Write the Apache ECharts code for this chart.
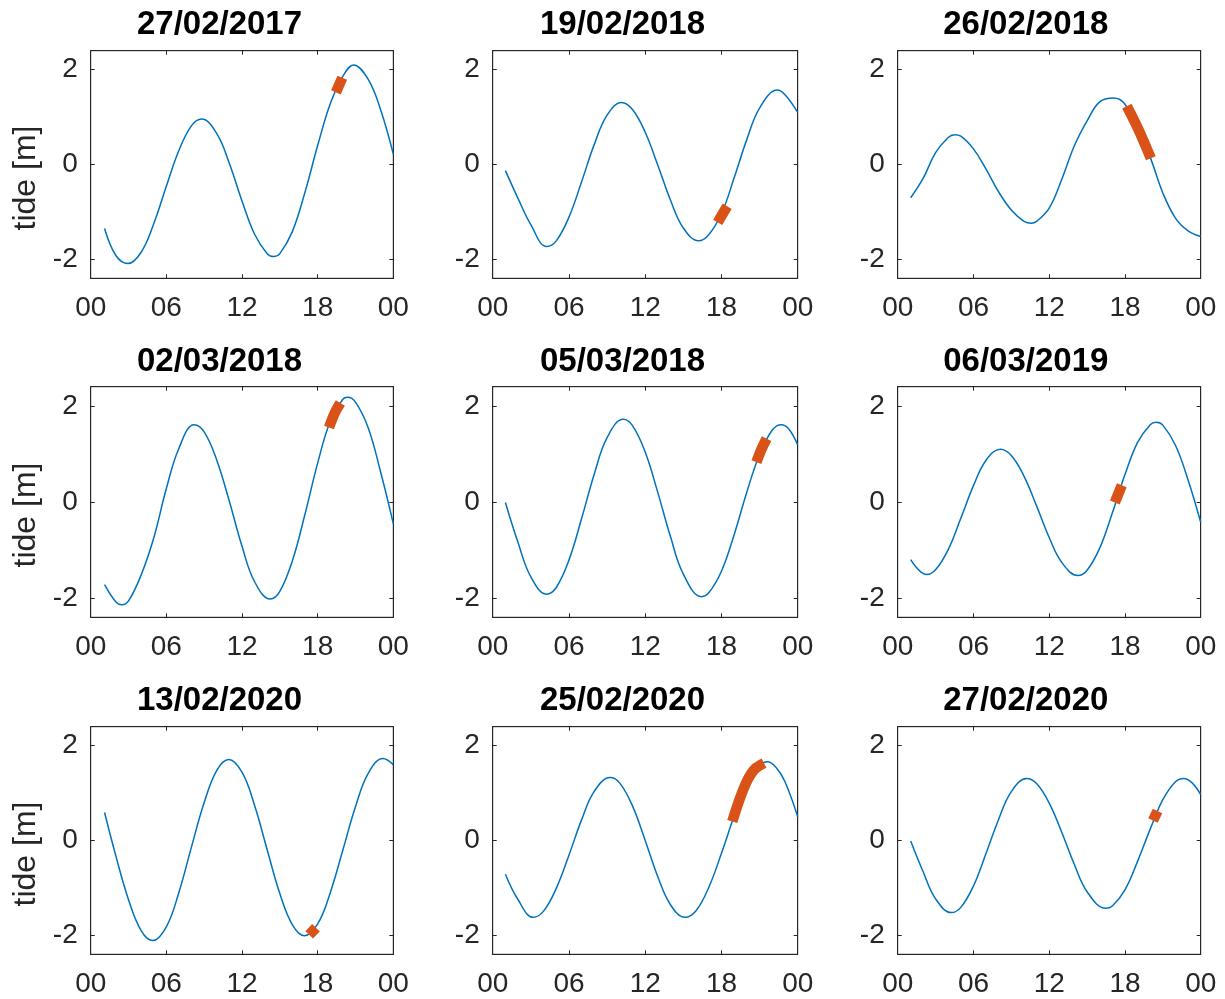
<!DOCTYPE html>
<html>
<head>
<meta charset="utf-8">
<script src="https://cdn.jsdelivr.net/npm/echarts@6/dist/echarts.min.js"></script>
<style>
html,body{margin:0;padding:0;background:#ffffff;}
#chart{width:1225px;height:999px;}
</style>
</head>
<body>
<div id="chart"></div>
<script>
// ---------- data ----------
const titles = ['27/02/2017','19/02/2018','26/02/2018','02/03/2018','05/03/2018','06/03/2019','13/02/2020','25/02/2020','27/02/2020'];
const xTickValues = [0, 6, 12, 18, 24];
const xTickLabels = ['00', '06', '12', '18', '00'];
const yTickValues = [-2, 0, 2];
const yTickLabels = ['-2', '0', '2'];
const yAxisName = 'tide [m]';

const hrs1  = [1.1,2,2.95,4,5,6,7,8,8.8,10,11,12,13,14,14.5,15,16,17,18,19,20,20.85,22,23,24];
const tide1 = [-1.35,-1.92,-2.09,-1.85,-1.25,-0.46,0.30,0.82,0.96,0.65,0.02,-0.77,-1.47,-1.88,-1.94,-1.88,-1.41,-0.58,0.40,1.28,1.86,2.10,1.80,1.15,0.22];
const markHrs1  = [19.45,19.95];
const markTide1 = [1.52,1.83];

const hrs2  = [1,2,3,4.24,5,6,7,8,9,10.13,11,12,13,14,15,16.2,17,18,19,20,21,22.4,23,24];
const tide2 = [-0.13,-0.72,-1.27,-1.73,-1.61,-1.11,-0.36,0.43,1.04,1.31,1.16,0.68,-0.02,-0.76,-1.34,-1.61,-1.48,-1.04,-0.28,0.53,1.19,1.57,1.47,1.10];
const markHrs2  = [17.7,18.45];
const markTide2 = [-1.22,-0.88];

const hrs3  = [1.03,2,3,4,4.5,5,6,7,8,9,10,10.6,11,12,13,14,15,16,17.1,18,19,20,21,22,23,24];
const tide3 = [-0.70,-0.30,0.25,0.57,0.63,0.60,0.33,-0.10,-0.58,-0.96,-1.20,-1.24,-1.20,-0.92,-0.31,0.40,0.92,1.32,1.40,1.27,0.74,0.15,-0.60,-1.13,-1.40,-1.52];
const markHrs3  = [18.15,19.1,20.05];
const markTide3 = [1.23,0.72,0.13];

const hrs4  = [1.1,2,2.47,3,4,5,6,7,8.21,9,10,11,12,13,14.24,15,16,17,18,19,20,20.37,21,22,23,24];
const tide4 = [-1.72,-2.08,-2.14,-2.06,-1.52,-0.75,0.28,1.12,1.61,1.46,0.87,0.01,-0.92,-1.66,-2.02,-1.86,-1.22,-0.25,0.81,1.68,2.14,2.18,2.08,1.55,0.62,-0.45];
const markHrs4  = [18.9,19.35,19.8];
const markTide4 = [1.55,1.85,2.06];

const hrs5  = [1,2,3,4.24,5,6,7,8,9,10.26,11,12,13,14,15,16.42,17,18,19,20,21,22,22.71,23.3,24];
const tide5 = [-0.01,-0.85,-1.56,-1.92,-1.78,-1.21,-0.34,0.59,1.34,1.72,1.59,1.04,0.19,-0.73,-1.50,-1.97,-1.89,-1.44,-0.68,0.21,0.99,1.50,1.61,1.52,1.19];
const markHrs5  = [20.75,21.15,21.55];
const markTide5 = [0.83,1.10,1.32];

const hrs6  = [1.03,2.27,3,4,5,6,7,8.13,9,10,11,12,13,14.27,15,16,17,18,19,20,20.47,21,22,23,24];
const tide6 = [-1.20,-1.51,-1.41,-0.99,-0.34,0.34,0.87,1.10,0.97,0.54,-0.08,-0.74,-1.26,-1.53,-1.42,-0.96,-0.23,0.57,1.24,1.61,1.66,1.60,1.18,0.46,-0.42];
const markHrs6  = [17.2,17.75];
const markTide6 = [-0.01,0.35];

const hrs7  = [1.1,2,3,4,4.92,6,7,8,9,10,10.95,12,13,14,15,16,16.95,18,19,20,21,22,23.18,24];
const tide7 = [0.59,-0.33,-1.25,-1.90,-2.11,-1.82,-1.09,-0.13,0.80,1.48,1.71,1.44,0.74,-0.20,-1.12,-1.78,-2.01,-1.76,-1.10,-0.20,0.71,1.41,1.73,1.60];
const markHrs7  = [17.33,17.87];
const markTide7 = [-1.99,-1.84];

const hrs8  = [1,2,3.18,4,5,6,7,8,9.24,10,11,12,13,14,15.13,16,17,18,19,20,21,21.6,22.3,23,24];
const tide8 = [-0.71,-1.25,-1.62,-1.49,-1.01,-0.31,0.44,1.04,1.33,1.21,0.73,0.00,-0.77,-1.36,-1.62,-1.48,-0.99,-0.27,0.52,1.25,1.59,1.66,1.54,1.24,0.50];
const markHrs8  = [18.85,19.4,20.0,20.6,21.35];
const markTide8 = [0.40,0.85,1.25,1.50,1.63];

const hrs9  = [1.03,2,3,4.25,5,6,7,8,9,10.21,11,12,13,14,15,16.46,17,18,19,20,21,22,22.66,23.3,24];
const tide9 = [-0.01,-0.65,-1.23,-1.52,-1.41,-0.96,-0.27,0.45,1.03,1.31,1.20,0.79,0.17,-0.51,-1.08,-1.43,-1.38,-1.04,-0.44,0.24,0.86,1.24,1.31,1.22,0.97];
const markHrs9  = [20.22,20.58];
const markTide9 = [0.42,0.62];

// ---------- layout / style ----------
const FF = '"Liberation Sans", Arial, Helvetica, sans-serif';
const AX = '#262626';
const BLUE = '#0072BD';
const ORANGE = '#D95319';
const colLeft  = [90.7, 492.7, 897.7];
const colWidth = [302.6, 305, 303];
const rowTop    = [50.7, 386.7, 726.7];
const rowHeight = [227.6, 230.6, 227.6];
const titleX = [219.5, 622.5, 1025.8];
const titleY = [24.5, 362, 701];
const ylabelY = [178, 515, 854];

const curves = [
  [hrs1,tide1,markHrs1,markTide1],[hrs2,tide2,markHrs2,markTide2],[hrs3,tide3,markHrs3,markTide3],
  [hrs4,tide4,markHrs4,markTide4],[hrs5,tide5,markHrs5,markTide5],[hrs6,tide6,markHrs6,markTide6],
  [hrs7,tide7,markHrs7,markTide7],[hrs8,tide8,markHrs8,markTide8],[hrs9,tide9,markHrs9,markTide9]
];

const grid = [], xAxis = [], yAxis = [], series = [], graphic = [];
const zip = (a, b) => a.map((v, k) => [v, b[k]]);

for (let i = 0; i < 9; i++) {
  const col = i % 3, row = Math.floor(i / 3);
  grid.push({left: colLeft[col], top: rowTop[row], width: colWidth[col], height: rowHeight[row],
    show: true, borderColor: AX, borderWidth: 1, backgroundColor: '#fff', containLabel: false});
  const xBase = {gridIndex: i, type: 'value', min: 0, max: 24, interval: 6,
    axisLine: {show: true, onZero: false, lineStyle: {color: AX, width: 1}},
    axisTick: {show: true, inside: true, length: 4, lineStyle: {color: AX, width: 1}},
    splitLine: {show: false}};
  xAxis.push(Object.assign({}, xBase, {position: 'bottom',
    axisLabel: {show: true, margin: 16, fontSize: 28, color: AX, fontFamily: FF,
      formatter: v => xTickLabels[xTickValues.indexOf(Math.round(v))]}}));
  xAxis.push(Object.assign({}, xBase, {position: 'top', axisLabel: {show: false}}));
  const yBase = {gridIndex: i, type: 'value', min: -2.4, max: 2.4,
    axisLine: {show: true, onZero: false, lineStyle: {color: AX, width: 1}},
    axisTick: {show: true, inside: true, length: 4, customValues: yTickValues, lineStyle: {color: AX, width: 1}},
    splitLine: {show: false}};
  yAxis.push(Object.assign({}, yBase, {position: 'left',
    axisLabel: {show: true, margin: 13, fontSize: 28, color: AX, fontFamily: FF, customValues: yTickValues,
      formatter: v => yTickLabels[yTickValues.indexOf(Math.round(v))]}}));
  yAxis.push(Object.assign({}, yBase, {position: 'right', axisLabel: {show: false}}));

  const c = curves[i];
  series.push({type: 'line', xAxisIndex: 2 * i, yAxisIndex: 2 * i, data: zip(c[0], c[1]),
    symbol: 'none', showSymbol: false, smooth: 0.4, lineStyle: {color: BLUE, width: 1.5}, z: 2, silent: true});
  series.push({type: 'line', xAxisIndex: 2 * i, yAxisIndex: 2 * i, data: zip(c[2], c[3]),
    symbol: 'none', showSymbol: false, smooth: 0.3, lineStyle: {color: ORANGE, width: 10.5, cap: 'butt'}, z: 3, silent: true});

  graphic.push({type: 'text', x: titleX[col], y: titleY[row], silent: true,
    style: {text: titles[i], fontSize: 33, fontWeight: 'bold', fontFamily: FF, fill: '#000',
      align: 'center', verticalAlign: 'middle'}});
  if (col === 0) {
    graphic.push({type: 'text', x: 26, y: ylabelY[row], rotation: Math.PI / 2, silent: true,
      style: {text: yAxisName, fontSize: 32, fontFamily: FF, fill: AX, align: 'center', verticalAlign: 'middle'}});
  }
}

const chart = echarts.init(document.getElementById('chart'), null, {renderer: 'canvas'});
chart.setOption({
  animation: false,
  backgroundColor: '#ffffff',
  grid, xAxis, yAxis, series, graphic
});
</script>
</body>
</html>
